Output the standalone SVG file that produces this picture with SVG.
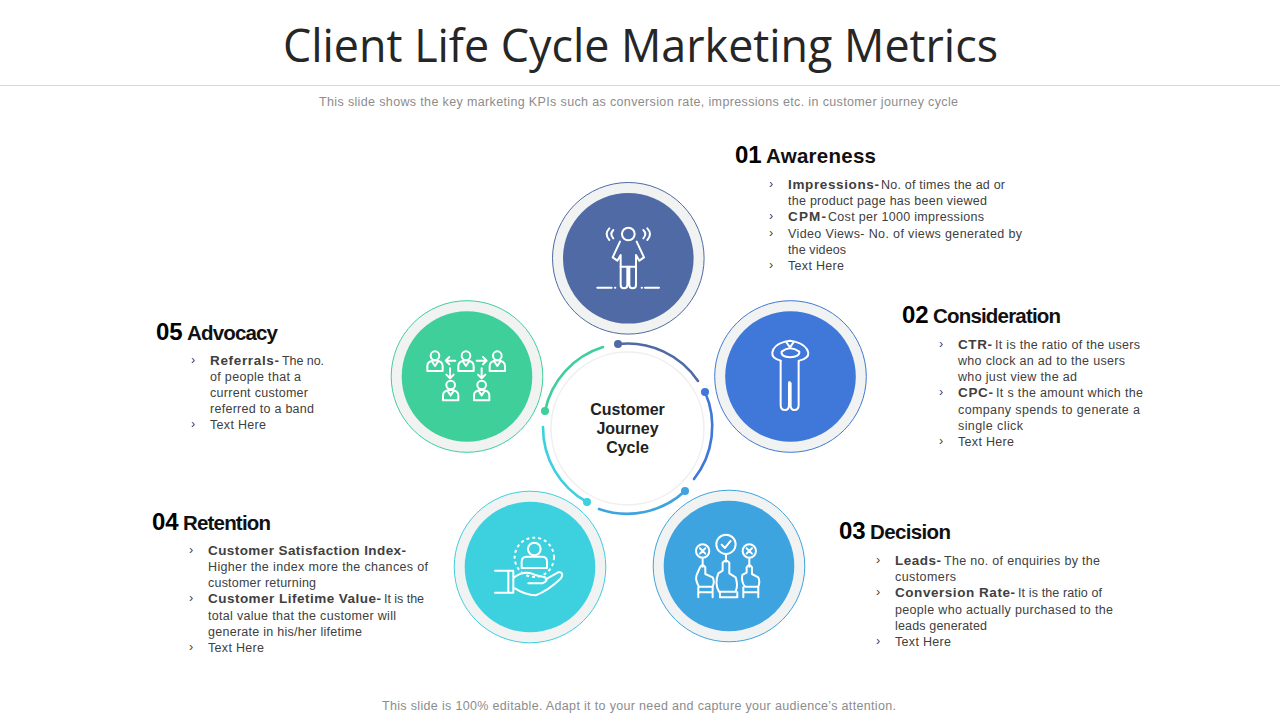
<svg xmlns="http://www.w3.org/2000/svg" width="1280" height="720" viewBox="0 0 1280 720">
<style>
text{font-family:"Liberation Sans",Arial,sans-serif}
.t{font-family:"Open Sans","Liberation Sans",sans-serif;font-size:45px;fill:#262626}
.s{font-size:12.5px;fill:#8c8c8c}
.n{font-size:24px;font-weight:700;fill:#000}
.h{font-size:20.5px;font-weight:700;fill:#111}
.b{font-size:12.5px;fill:#404040}
.bb{font-size:13.5px;font-weight:700;fill:#404040}
.c{font-size:16px;font-weight:700;fill:#222;text-anchor:middle}
.o{fill:#f1f2f2;stroke-width:1}
.i{fill:none;stroke:#fff;stroke-width:6;stroke-linecap:round;stroke-linejoin:round}
.a{fill:none;stroke-width:2.6;stroke-linecap:round}
</style>
<g id="header">
<text class="t" x="283" y="62" textLength="715" lengthAdjust="spacingAndGlyphs">Client Life Cycle Marketing Metrics</text>
<line x1="0" y1="85.500" x2="1280" y2="85.500" stroke="#d9d9d9"/>
<text class="s" x="319" y="106" textLength="639">This slide shows the key marketing KPIs such as conversion rate, impressions etc. in customer journey cycle</text>
<text class="s" x="382" y="710" textLength="514">This slide is 100% editable. Adapt it to your need and capture your audience’s attention.</text>
</g>
<g id="connectors">
<path class="a" stroke="#4f6aa5" d="M618 344A85 85 0 0 1 698 381"/><circle cx="618" cy="344" r="4" fill="#4f6aa5"/>
<path class="a" stroke="#3f78d8" d="M705 392A85 85 0 0 1 694 479"/><circle cx="705" cy="392" r="4" fill="#3f78d8"/>
<path class="a" stroke="#3ea4e0" d="M685 491A85 85 0 0 1 599 509"/><circle cx="685" cy="491" r="4" fill="#3ea4e0"/>
<path class="a" stroke="#3dd0df" d="M587 502A85 85 0 0 1 543 427"/><circle cx="587" cy="502" r="4" fill="#3dd0df"/>
<path class="a" stroke="#3fcf9b" d="M545 411A85 85 0 0 1 603 347"/><circle cx="545" cy="411" r="4" fill="#3fcf9b"/>
</g>
<g id="center">
<circle cx="627.500" cy="428.500" r="76.500" fill="#fff" stroke="#f0eeee" stroke-width="1.500"/>
<text class="c" x="627.500" y="415">Customer</text>
<text class="c" x="627.500" y="434">Journey</text>
<text class="c" x="627.500" y="453">Cycle</text>
</g>
<g id="node1">
<circle class="o" cx="628.300" cy="258.300" r="75.800" stroke="#4f6aa5"/>
<circle cx="628.300" cy="258.300" r="65.300" fill="#4f6aa5"/>
<g class="i" transform="translate(540 170) scale(.3333)">
<circle cx="265" cy="192" r="19"/>
<path d="M240 215L218 262L232 272L242 255V290H288V255L298 272L312 262L290 215"/>
<path d="M242 290V345Q242 355 252 355Q262 355 262 345V290M268 290V345Q268 355 278 355Q288 355 288 345V290"/>
<path d="M172 353H215M225 353H226M305 353H306M315 353H357"/>
<path d="M208 175Q192 192 208 210M220 180Q208 192 220 205M322 175Q338 192 322 210M310 180Q322 192 310 205"/>
</g>
<text class="n" x="735" y="163">01</text><text class="h" x="766" y="163" textLength="110">Awareness</text>
<text class="b" x="769" y="188">›</text><text class="bb" x="788" y="189" textLength="91">Impressions-</text><text class="b" x="881" y="189" textLength="124">No. of times the ad or</text>
<text class="b" x="788" y="205" textLength="199">the product page has been viewed</text>
<text class="b" x="769" y="220">›</text><text class="bb" x="788" y="221" textLength="38">CPM-</text><text class="b" x="828" y="221" textLength="156">Cost per 1000 impressions</text>
<text class="b" x="769" y="237">›</text><text class="b" x="788" y="238" textLength="234">Video Views- No. of views generated by</text>
<text class="b" x="788" y="254" textLength="58">the videos</text>
<text class="b" x="769" y="269">›</text><text class="b" x="788" y="270" textLength="56">Text Here</text>
</g>
<g id="node2">
<circle class="o" cx="790.500" cy="376.500" r="75.800" stroke="#3f78d8"/>
<circle cx="790.500" cy="376.500" r="65.300" fill="#3f78d8"/>
<g class="i" transform="translate(540 170) scale(.3333)">
<path d="M722 572Q695 565 697 548Q700 525 735 515L750 512L765 515Q800 525 805 548Q807 565 778 572"/>
<path d="M725 545Q750 525 778 545Q780 560 750 562Q722 560 725 545Z"/>
<path d="M740 518L750 532L760 518"/>
<path d="M722 572V705Q722 720 735 720Q747 720 747 705V640Q747 632 752 640V705Q752 720 763 720Q776 720 776 705V572"/>
</g>
<text class="n" x="902" y="323">02</text><text class="h" x="933" y="323" textLength="128">Consideration</text>
<text class="b" x="939" y="348">›</text><text class="bb" x="958" y="349" textLength="34">CTR-</text><text class="b" x="995" y="349" textLength="145">It is the ratio of the users</text>
<text class="b" x="958" y="365" textLength="167">who clock an ad to the users</text>
<text class="b" x="958" y="381" textLength="119">who just view the ad</text>
<text class="b" x="939" y="396">›</text><text class="bb" x="958" y="397" textLength="35">CPC-</text><text class="b" x="996" y="397" textLength="147">It s the amount which the</text>
<text class="b" x="958" y="414" textLength="182">company spends to generate a</text>
<text class="b" x="958" y="430" textLength="65">single click</text>
<text class="b" x="939" y="445">›</text><text class="b" x="958" y="446" textLength="56">Text Here</text>
</g>
<g id="node3">
<circle class="o" cx="729" cy="566" r="75.800" stroke="#3ea4e0"/>
<circle cx="729" cy="566" r="65.300" fill="#3ea4e0"/>
<g class="i" transform="translate(445 480) scale(.3333)">
<circle cx="773" cy="213" r="20"/><circle cx="843" cy="193" r="29"/><circle cx="913" cy="213" r="20"/>
<path d="M765 205L781 221M781 205L765 221M905 205L921 221M921 205L905 221M830 194L840 204L857 183"/>
<path d="M773 233V260M843 222V245M913 233V260"/>
<path d="M765 262Q773 250 781 262V282L803 292Q810 305 803 320H762Q750 300 755 285Z"/>
<path d="M833 248Q843 235 853 248V280L872 292Q880 315 872 335H822Q808 310 820 280L833 272Z"/>
<path d="M905 262Q913 250 921 262V282L940 292Q946 305 940 320H900Q888 305 892 285L905 278Z"/>
<path d="M760 322V352M803 322V352M760 337H803M825 337V352H877V337M895 322V352M940 322V352M895 337H940"/>
</g>
<text class="n" x="839" y="539">03</text><text class="h" x="870" y="539" textLength="81">Decision</text>
<text class="b" x="876" y="564">›</text><text class="bb" x="895" y="565" textLength="46">Leads-</text><text class="b" x="944" y="565" textLength="156">The no. of enquiries by the</text>
<text class="b" x="895" y="581" textLength="61">customers</text>
<text class="b" x="876" y="596">›</text><text class="bb" x="895" y="597" textLength="120">Conversion Rate-</text><text class="b" x="1018" y="597" textLength="84">It is the ratio of</text>
<text class="b" x="895" y="614" textLength="218">people who actually purchased to the</text>
<text class="b" x="895" y="630" textLength="92">leads generated</text>
<text class="b" x="876" y="645">›</text><text class="b" x="895" y="646" textLength="56">Text Here</text>
</g>
<g id="node4">
<circle class="o" cx="530" cy="567" r="75.800" stroke="#3dd0df"/>
<circle cx="530" cy="567" r="65.300" fill="#3dd0df"/>
<g class="i" transform="translate(445 480) scale(.3333)">
<circle cx="268" cy="207" r="19"/>
<circle cx="268" cy="232" r="59" stroke-dasharray="9 9" stroke-linecap="butt"/>
<path d="M230 264V245Q230 230 245 230H292Q306 230 306 245V264Z"/>
<path d="M150 272H205V338H150M190 275V335"/>
<path d="M207 292Q240 268 270 285L300 292Q312 302 292 310H250"/>
<path d="M302 298L342 276Q358 278 348 295Q310 332 272 346Q240 345 210 325"/>
</g>
<text class="n" x="152" y="530">04</text><text class="h" x="183" y="530" textLength="88">Retention</text>
<text class="bb" x="208" y="555" textLength="198">Customer Satisfaction Index-</text>
<text class="b" x="208" y="571" textLength="220">Higher the index more the chances of</text>
<text class="b" x="208" y="587" textLength="108">customer returning</text>
<text class="b" x="189" y="602">›</text><text class="bb" x="208" y="603" textLength="173">Customer Lifetime Value-</text><text class="b" x="384" y="603" textLength="40">It is the</text>
<text class="b" x="208" y="620" textLength="188">total value that the customer will</text>
<text class="b" x="208" y="636" textLength="154">generate in his/her lifetime</text>
<text class="b" x="189" y="651">›</text><text class="b" x="208" y="652" textLength="56">Text Here</text>
<text class="b" x="189" y="554">›</text>
</g>
<g id="node5">
<circle class="o" cx="467" cy="376.500" r="75.800" stroke="#3fcf9b"/>
<circle cx="467" cy="376.500" r="65.300" fill="#3fcf9b"/>
<g class="i" transform="translate(380 290) scale(.3333)">
<g id="p5"><circle cx="165" cy="197" r="13"/><path d="M142 243V228Q142 213 165 211Q188 213 188 228V243ZM155 213L165 228L175 213"/></g>
<g><circle cx="258" cy="197" r="13"/><path d="M235 243V228Q235 213 258 211Q281 213 281 228V243ZM248 213L258 228L268 213"/></g>
<g><circle cx="352" cy="197" r="13"/><path d="M329 243V228Q329 213 352 211Q375 213 375 228V243ZM342 213L352 228L362 213"/></g>
<g><circle cx="212" cy="285" r="13"/><path d="M189 331V316Q189 301 212 299Q235 301 235 316V331ZM202 301L212 316L222 301"/></g>
<g><circle cx="305" cy="285" r="13"/><path d="M282 331V316Q282 301 305 299Q328 301 328 316V331ZM295 301L305 316L315 301"/></g>
<path d="M226 212H197M208 201L197 212L208 223M290 212H320M309 201L320 212L309 223M210 235V265M199 254L210 265L221 254M305 235V265M294 254L305 265L316 254"/>
</g>
<text class="n" x="156" y="340">05</text><text class="h" x="187" y="340" textLength="91">Advocacy</text>
<text class="b" x="191" y="364">›</text><text class="bb" x="210" y="365" textLength="69">Referrals-</text><text class="b" x="282" y="365" textLength="42">The no.</text>
<text class="b" x="210" y="381" textLength="91">of people that a</text>
<text class="b" x="210" y="397" textLength="98">current customer</text>
<text class="b" x="210" y="413" textLength="104">referred to a band</text>
<text class="b" x="191" y="428">›</text><text class="b" x="210" y="429" textLength="56">Text Here</text>
</g>
</svg>
